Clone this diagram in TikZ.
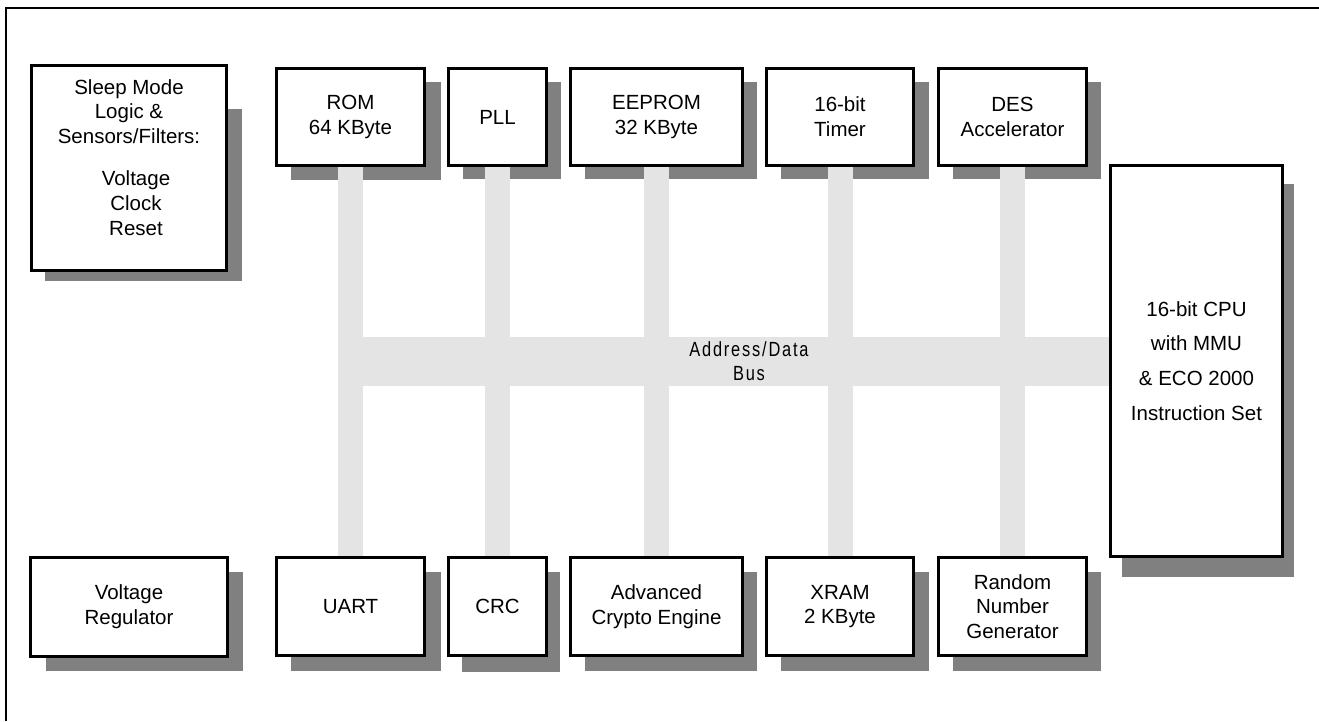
\documentclass[tikz,border=0pt]{standalone}
\usepackage{fontspec}
\setmainfont{Liberation Sans}
\newfontfamily\busfamily[LetterSpace=11]{Liberation Sans}
\usetikzlibrary{calc}
\definecolor{shadowgray}{HTML}{808080}
\definecolor{busgray}{HTML}{E4E4E4}
\pgfdeclarelayer{shadowlayer}
\pgfdeclarelayer{buslayer}
\pgfsetlayers{shadowlayer,buslayer,main}
\begin{document}
\begin{tikzpicture}[x=1pt,y=-1pt,
  boxfont/.style={font=\fontsize{20.5}{24.8}\selectfont},
  blk/.style={draw=black, line width=3pt, fill=white, inner sep=0pt, align=center, boxfont},
  topblk/.style={blk, minimum height=97pt},
  botblk/.style={blk, minimum height=98pt},
  shade/.style={fill=shadowgray},
  stub/.style={draw=busgray, line width=25pt},
  frameline/.style={draw=black, line width=1.3pt}]
\useasboundingbox (0,0) rectangle (1319,721);

% frame
\draw[frameline] (6,721) -- (6,8) -- (1319,8);

% left column
\node[blk, minimum width=195pt, minimum height=205pt] (sleep) at (129,168) {};
\node[boxfont, align=center, anchor=north, inner sep=0pt] (sleeptext) at (129,79)
  {Sleep Mode\\Logic \&\\Sensors/Filters:\\[17pt]\hspace*{14pt}Voltage\\\hspace*{14pt}Clock\\\hspace*{14pt}Reset};
\node[blk, minimum width=197pt, minimum height=99pt] (vreg) at (129,607) {Voltage\\Regulator};

% top row
\node[topblk, minimum width=148pt] (rom)    at (350.5,117) {ROM\\64 KByte};
\node[topblk, minimum width=98pt]  (pll)    at (497.5,117) {PLL};
\node[topblk, minimum width=172pt] (eeprom) at (656.5,117) {EEPROM\\32 KByte};
\node[topblk, minimum width=147pt] (timer)  at (840,117)   {16-bit\\Timer};
\node[topblk, minimum width=148pt] (des)    at (1012.5,117) {DES\\Accelerator};

% bottom row
\node[botblk, minimum width=148pt] (uart) at (350.5,606.5) {UART};
\node[botblk, minimum width=98pt]  (crc)  at (497.5,606.5) {CRC};
\node[botblk, minimum width=172pt] (ace)  at (656.5,606.5) {Advanced\\Crypto Engine};
\node[botblk, minimum width=147pt] (xram) at (840,606.5)   {XRAM\\2 KByte};
\node[botblk, minimum width=148pt] (rng)  at (1012.5,606.5) {Random\\Number\\Generator};

% CPU
\node[blk, minimum width=172pt, minimum height=391pt, font=\fontsize{20.5}{34.7}\selectfont] (cpu) at (1196.5,361)
  {16-bit CPU\\with MMU\\\& ECO 2000\\Instruction Set};

% bus
\begin{pgfonlayer}{buslayer}
  \node[fill=busgray, inner sep=0pt, minimum width=769pt, minimum height=49pt] (bus) at (724.5,361.5) {};
  \foreach \n in {rom,pll,eeprom,timer,des,uart,crc,ace,xram,rng}
    \draw[stub] (\n.center) -- (\n.center |- bus.center);
\end{pgfonlayer}
\node[font=\busfamily\fontsize{20.5}{24}\selectfont, align=center, inner sep=0pt] (buslabel) at (749,361)
  {\scalebox{0.8}[1]{Address/Data}\\\scalebox{0.8}[1]{Bus}};

% shadows
\begin{pgfonlayer}{shadowlayer}
  \fill[shade] (45,109) rectangle (242,281);
  \fill[shade] (46,572) rectangle (243,671);
  \fill[shade] (291,82) rectangle (441,180);
  \fill[shade] (463,82) rectangle (561,179);
  \fill[shade] (585,82) rectangle (757,179);
  \fill[shade] (781,82) rectangle (929,179);
  \fill[shade] (953,82) rectangle (1101,179);
  \fill[shade] (291,572) rectangle (441,671);
  \fill[shade] (462,572) rectangle (560,672);
  \fill[shade] (585,572) rectangle (757,671);
  \fill[shade] (781,572) rectangle (929,671);
  \fill[shade] (953,572) rectangle (1101,671);
  \fill[shade] (1122,184) rectangle (1294,577);
\end{pgfonlayer}
\end{tikzpicture}
\end{document}
